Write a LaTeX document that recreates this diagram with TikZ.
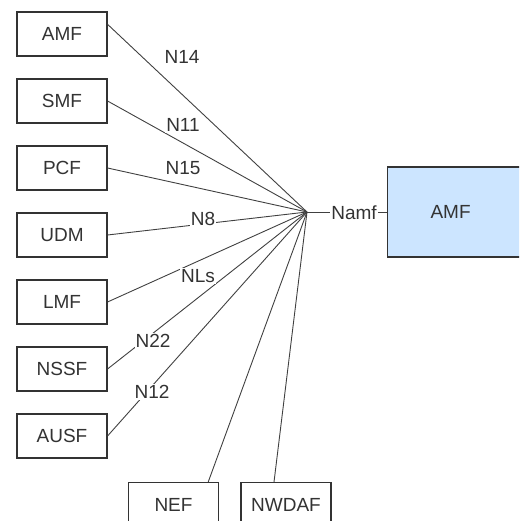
\documentclass[tikz,border=0pt]{standalone}
\usepackage{fontspec}
\setmainfont{Liberation Sans}
\usetikzlibrary{arrows}

\begin{document}
\begin{tikzpicture}[x=1pt,y=1pt,node distance=67pt,
  main node/.style={rectangle,draw=black!80,line width=1.1pt,fill=white,text=black!80,font=\fontsize{19}{23}\selectfont,minimum width=90pt,minimum height=44pt},
  link label/.style={fill=white,inner sep=1pt,text=black!80,font=\fontsize{19}{23}\selectfont}]

  \useasboundingbox (0,0) rectangle (519,521);
  \clip (0,0) rectangle (519,521);

  \node[main node] (1) at (62,487) {AMF};
  \node[main node] (2) [below of=1] {SMF};
  \node[main node] (3) [below of=2] {PCF};
  \node[main node] (4) [below of=3] {UDM};
  \node[main node] (5) [below of=4] {LMF};
  \node[main node] (6) [below of=5] {NSSF};
  \node[main node] (7) [below of=6] {AUSF};
  \node[main node] (8) at (173.5,16.5) {NEF};
  \node[main node] (9) [right of=8,node distance=112.5pt] {NWDAF};
  \node[main node,fill={rgb,255:red,204;green,229;blue,255},minimum width=180pt,minimum height=90pt,anchor=west] (10) at (387,309) {AMF\hspace*{54pt}};
  \coordinate (0) at (307,309);

  \path[line width=0.9pt,draw=black!75]
    (1.12) edge (0)
    (2.east) edge (0)
    (3.east) edge (0)
    (4.east) edge (0)
    (5.east) edge (0)
    (6.east) edge (0)
    (7.east) edge (0)
    (8.33) edge (0)
    (9.118) edge (0)
    (0) edge (10);

  \node[link label] (l1) at (182,464) {N14};
  \node[link label] (l2) at (183,396) {N11};
  \node[link label] (l3) at (183,353) {N15};
  \node[link label] (l4) at (203,302) {N8};
  \node[link label] (l5) at (198,245) {NLs};
  \node[link label] (l6) at (153,180) {N22};
  \node[link label] (l7) at (152,129) {N12};
  \node[link label] (l8) at (354,308) {Namf};

\end{tikzpicture}
\end{document}
